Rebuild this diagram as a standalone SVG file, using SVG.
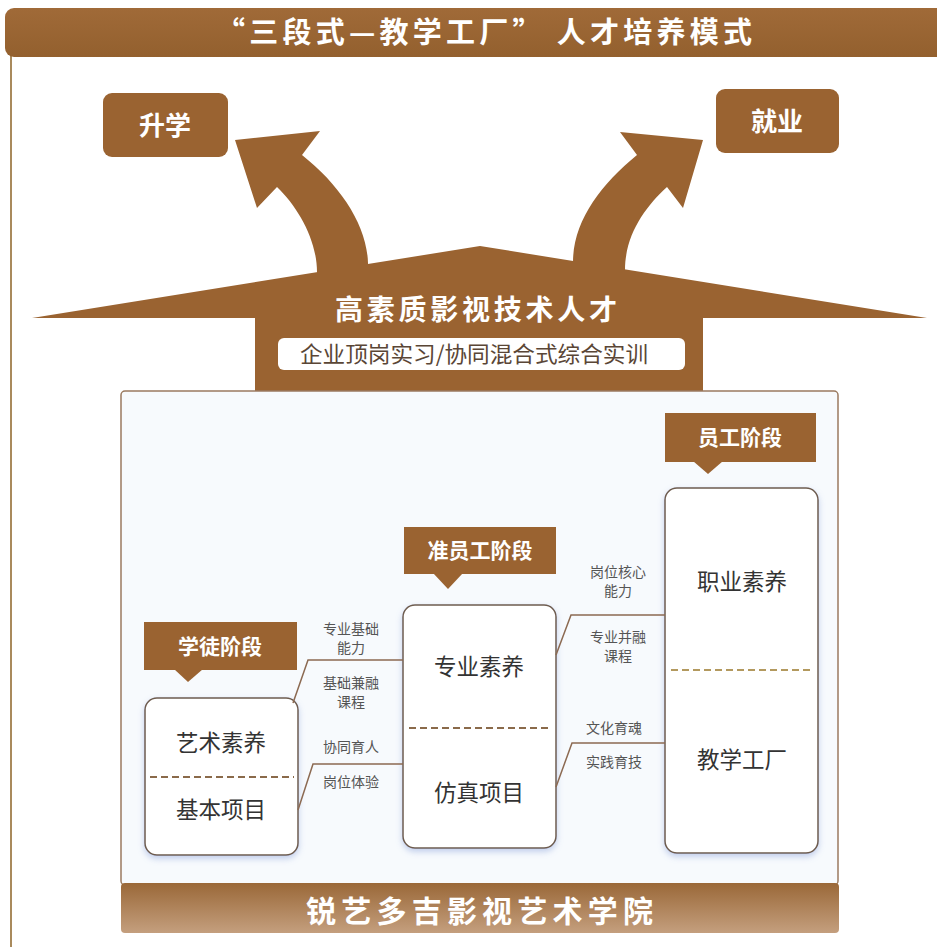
<svg xmlns="http://www.w3.org/2000/svg" width="937" height="949" viewBox="0 0 937 949">
<defs>
<linearGradient id="gTitle" x1="0" y1="0" x2="0" y2="1">
<stop offset="0" stop-color="#a06a38"/><stop offset="1" stop-color="#93602e"/>
</linearGradient>
<linearGradient id="gBottom" x1="0" y1="0" x2="0" y2="1">
<stop offset="0" stop-color="#9a6838"/><stop offset="1" stop-color="#c49f7e"/>
</linearGradient>
<filter id="sh" x="-20%" y="-20%" width="140%" height="140%">
<feDropShadow dx="0" dy="3" stdDeviation="3" flood-color="#7f97d6" flood-opacity="0.45"/>
</filter>
<style>
.brown{fill:#9a6331}
.wt{font-family:"Noto Sans CJK SC","Noto Sans",sans-serif;font-weight:bold;fill:#ffffff;text-anchor:middle}
.bx{fill:#ffffff;stroke:#6e5c4e;stroke-width:1.5}
.bt{font-family:"Noto Sans CJK SC","Noto Sans",sans-serif;font-size:22.5px;fill:#333333;text-anchor:middle}
.lt{font-family:"Noto Sans CJK SC","Noto Sans",sans-serif;font-size:14px;fill:#555555;text-anchor:middle}
.cn{fill:none;stroke:#8c6a52;stroke-width:1.5}
.dash{stroke:#8a6a4a;stroke-width:2;stroke-dasharray:7,4}
</style>
</defs>
<rect x="0" y="0" width="937" height="949" fill="#ffffff"/>
<line x1="11" y1="55" x2="11" y2="947" stroke="#a98a5c" stroke-width="2"/>
<g id="title">
<rect x="5" y="8" width="950" height="49" rx="9" fill="url(#gTitle)"/>
<text x="216" y="43" font-family="'Noto Sans CJK SC','Noto Sans',sans-serif" font-weight="bold" fill="#ffffff" font-size="29" textLength="536" lengthAdjust="spacing">“三段式—教学工厂” 人才培养模式</text>
</g>
<g id="top-shape">
<polygon class="brown" points="32,318 480,246 927,318 703,318 703,391 255,391 255,318"/>
<path class="brown" d="M317,292 L317,272 C317,240 298,207 277,187 L257,208 L235,140 L320,131 L302,155 C340,185 367,225 368,263 L368,292 Z"/>
<path class="brown" d="M573,292 L573,262 C573,222 600,185 637,155 L620,132 L703,140 L683,208 L667,187 C645,207 625,235 625,270 L625,292 Z"/>
<text x="335" y="320" font-family="'Noto Sans CJK SC','Noto Sans',sans-serif" font-weight="bold" fill="#ffffff" font-size="28" textLength="282" lengthAdjust="spacing">高素质影视技术人才</text>
<rect x="278" y="338" width="407" height="32" rx="6" fill="#ffffff"/>
<text x="300" y="362" font-family="'Noto Sans CJK SC','Noto Sans',sans-serif" font-size="22" fill="#5a4636" textLength="348" lengthAdjust="spacingAndGlyphs">企业顶岗实习/协同混合式综合实训</text>
</g>
<g id="shengxue">
<rect x="103" y="93" width="125" height="64" rx="9" class="brown"/>
<text x="165" y="135" class="wt" font-size="26">升学</text>
</g>
<g id="jiuye">
<rect x="716" y="89" width="123" height="64" rx="9" class="brown"/>
<text x="777" y="131" class="wt" font-size="26">就业</text>
</g>
<g id="panel">
<rect x="121" y="391" width="717" height="494" rx="4" fill="#f7fafd" stroke="#9a7a60" stroke-width="1.5"/>
</g>
<g id="stage1">
<rect x="144" y="622" width="153" height="48" class="brown"/>
<polygon class="brown" points="174,669 203,669 188,682"/>
<text x="220" y="654" class="wt" font-size="21">学徒阶段</text>
</g>
<g id="stage2">
<rect x="404" y="527" width="152" height="47" class="brown"/>
<polygon class="brown" points="433,573 463,573 448,589"/>
<text x="480" y="558" class="wt" font-size="21">准员工阶段</text>
</g>
<g id="stage3">
<rect x="665" y="413" width="151" height="49" class="brown"/>
<polygon class="brown" points="693,461 723,461 708,474"/>
<text x="740" y="445" class="wt" font-size="21">员工阶段</text>
</g>
<g id="box1">
<rect x="145" y="698" width="153" height="157" rx="12" class="bx" filter="url(#sh)"/>
<text x="221" y="751" class="bt">艺术素养</text>
<line x1="150" y1="777" x2="294" y2="777" class="dash"/>
<text x="221" y="818" class="bt">基本项目</text>
</g>
<g id="box2">
<rect x="403" y="605" width="153" height="243" rx="12" class="bx" filter="url(#sh)"/>
<text x="479" y="675" class="bt">专业素养</text>
<line x1="409" y1="728" x2="551" y2="728" class="dash"/>
<text x="479" y="801" class="bt">仿真项目</text>
</g>
<g id="box3">
<rect x="665" y="488" width="153" height="365" rx="12" class="bx" filter="url(#sh)"/>
<text x="742" y="590" class="bt">职业素养</text>
<line x1="671" y1="670" x2="813" y2="670" stroke="#b3995e" stroke-width="2" stroke-dasharray="7,4"/>
<text x="742" y="768" class="bt">教学工厂</text>
</g>
<g id="connectors">
<polyline class="cn" points="293,703 308,660 403,660"/>
<polyline class="cn" points="298,810 313,764 403,764"/>
<polyline class="cn" points="556,655 571,615 665,615"/>
<polyline class="cn" points="556,787 572,743 665,743"/>
</g>
<g id="labels">
<text x="351" y="634" class="lt">专业基础</text>
<text x="351" y="653" class="lt">能力</text>
<text x="351" y="688" class="lt">基础兼融</text>
<text x="351" y="707" class="lt">课程</text>
<text x="351" y="752" class="lt">协同育人</text>
<text x="351" y="787" class="lt">岗位体验</text>
<text x="618" y="577" class="lt">岗位核心</text>
<text x="618" y="596" class="lt">能力</text>
<text x="618" y="642" class="lt">专业并融</text>
<text x="618" y="661" class="lt">课程</text>
<text x="614" y="733" class="lt">文化育魂</text>
<text x="614" y="767" class="lt">实践育技</text>
</g>
<g id="footer">
<rect x="121" y="883" width="718" height="50" rx="4" fill="url(#gBottom)"/>
<text x="306" y="922" font-family="'Noto Sans CJK SC','Noto Sans',sans-serif" font-weight="bold" fill="#ffffff" font-size="30" textLength="347" lengthAdjust="spacing">锐艺多吉影视艺术学院</text>
</g>
</svg>
